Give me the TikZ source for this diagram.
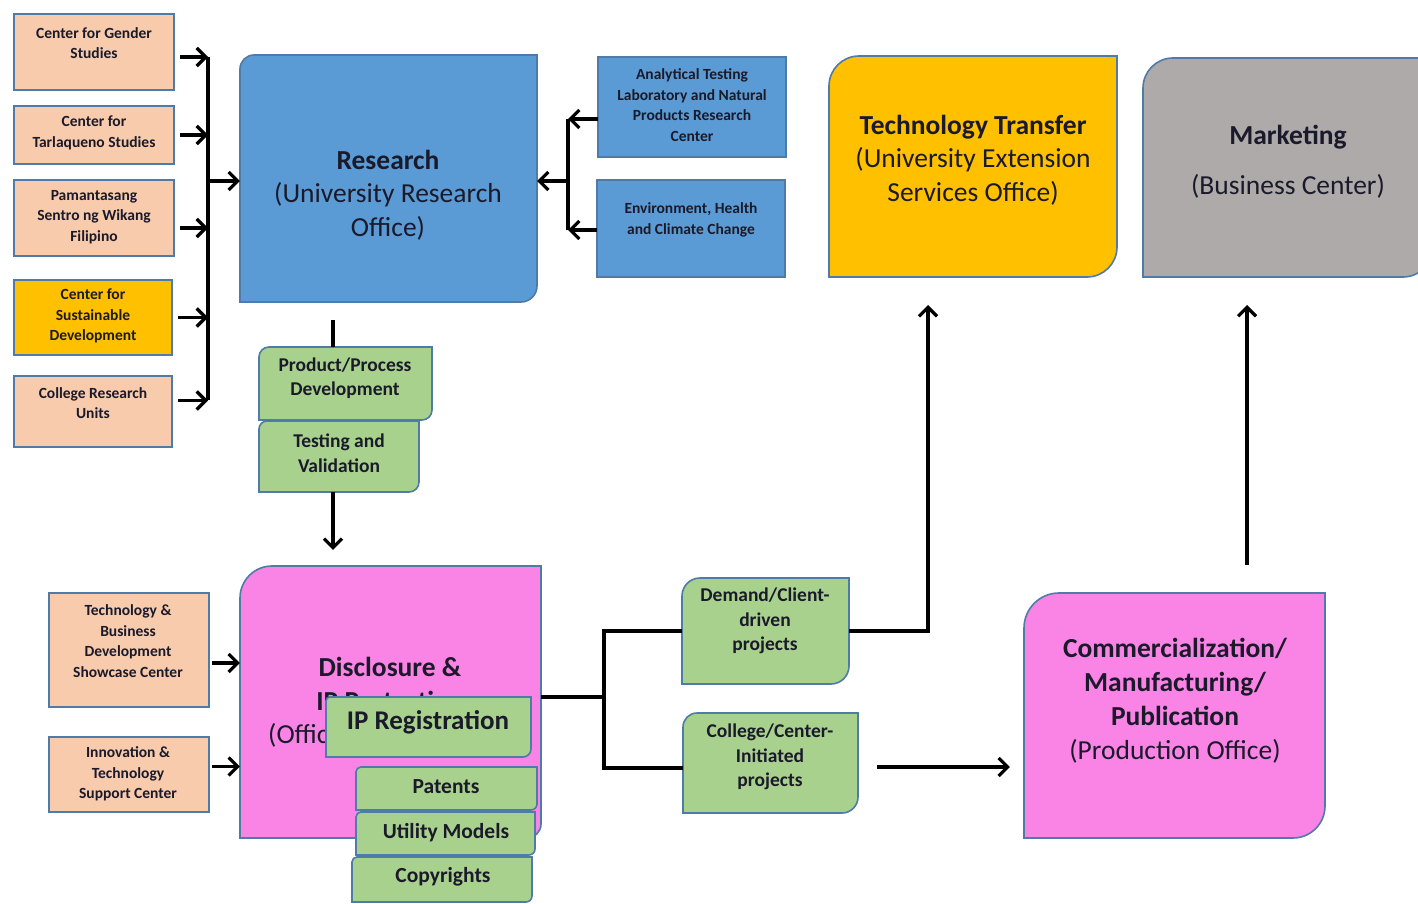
\documentclass[tikz,border=0pt]{standalone}
\usepackage{fontspec}
\setmainfont{Carlito}
\usetikzlibrary{arrows.meta}
\definecolor{peach}{HTML}{F8CBAD}
\definecolor{bordc}{HTML}{4E7BA8}
\definecolor{bluef}{HTML}{5B9BD5}
\definecolor{goldf}{HTML}{FFC000}
\definecolor{grayf}{HTML}{AEAAAA}
\definecolor{pinkf}{RGB}{250,132,230}
\definecolor{greenf}{HTML}{A9D18E}
\definecolor{txt}{HTML}{1A1A2A}
\newcommand\rdbox[8]{%
 \pgfmathsetmacro\ka{#3+#6}%
 \pgfmathsetmacro\kb{#3+0.448*#6}%
 \pgfmathsetmacro\kc{#2+0.448*#6}%
 \pgfmathsetmacro\kd{#2+#6}%
 \pgfmathsetmacro\ke{#5-#7}%
 \pgfmathsetmacro\kf{#5-0.448*#7}%
 \pgfmathsetmacro\kg{#4-0.448*#7}%
 \pgfmathsetmacro\kh{#4-#7}%
 \draw[boxline,fill=#8] (#2,#5) -- (#2,\ka) .. controls (#2,\kb) and (\kc,#3) .. (\kd,#3) -- (#4,#3) -- (#4,\ke) .. controls (#4,\kf) and (\kg,#5) .. (\kh,#5) -- cycle;
 \node[inner sep=0pt,minimum width={#4-#2},minimum height={#5-#3}] (#1) at ({(#2+#4)/2},{(#3+#5)/2}) {};
}
\begin{document}
\begin{tikzpicture}[x=1pt,y=-1pt,
  boxline/.style={draw=bordc,line width=1.6pt},
  line/.style={line width=3.2pt,draw=black},
  arr/.style={line width=3.2pt,draw=black,-{Straight Barb[length=9pt,width=18pt]}},
  tiny/.style={font=\bfseries\fontsize{15.5}{20.5}\selectfont,align=center,inner sep=0pt,text=txt},
  mid/.style={font=\bfseries\fontsize{19.5}{24.5}\selectfont,align=center,inner sep=0pt,text=txt},
  big/.style={font=\fontsize{27.5}{33.5}\selectfont,align=center,inner sep=0pt,text=txt}]
\fill[white] (0,0) rectangle (1418,904);
\useasboundingbox (0,0) rectangle (1418,904);
\clip (0,0) rectangle (1418,904);

% left column
\rdbox{g1}{14}{14}{174}{90}{0}{0}{peach}
\node[tiny] at (94,43) {Center for Gender\\Studies};
\rdbox{g2}{14}{106}{174}{164}{0}{0}{peach}
\node[tiny] at (94,133) {Center for\\Tarlaqueno Studies};
\rdbox{g3}{14}{180}{174}{256}{0}{0}{peach}
\node[tiny] at (94,217) {Pamantasang\\Sentro ng Wikang\\Filipino};
\rdbox{g4}{14}{280}{172}{355}{0}{0}{goldf}
\node[tiny] at (93,316) {Center for\\Sustainable\\Development};
\rdbox{g5}{14}{376}{172}{447}{0}{0}{peach}
\node[tiny] at (93,403) {College Research\\Units};

% research
\rdbox{research}{240}{55}{537}{302}{14}{16}{bluef}
\node[big] at (388,195) {{\bfseries Research}\\(University Research\\Office)};

% right blue boxes
\rdbox{an}{598}{57}{786}{157}{0}{0}{bluef}
\node[tiny] at (692,105) {Analytical Testing\\Laboratory and Natural\\Products Research\\Center};
\rdbox{env}{597}{180}{785}{277}{0}{0}{bluef}
\node[tiny] at (691,220) {Environment, Health\\and Climate Change};

% green process boxes
\rdbox{pp}{259}{347}{432}{420}{10}{10}{greenf}
\node[mid] at (345,378) {Product/Process\\Development};
\rdbox{tv}{259}{421}{419}{492}{8}{10}{greenf}
\node[mid] at (339,453) {Testing and\\Validation};

% disclosure
\rdbox{disc}{240}{566}{541}{838}{32}{14}{pinkf}
\node[big,font=\bfseries\fontsize{27.5}{33.5}\selectfont] at (390,684) {Disclosure \&\\IP Protection};
\node[big,anchor=west] at (268,735) {(Office)};
\rdbox{ipr}{326}{697}{531}{757}{4}{8}{greenf}
\node[big,font=\bfseries\fontsize{27}{30}\selectfont] at (428,722) {IP Registration};
\rdbox{pat}{356}{767}{537}{810}{5}{6}{greenf}
\node[mid,font=\bfseries\fontsize{21.5}{24}\selectfont] at (446,787) {Patents};
\rdbox{um}{356}{812}{535}{855}{5}{6}{greenf}
\node[mid,font=\bfseries\fontsize{21.5}{24}\selectfont] at (446,833) {Utility Models};
\rdbox{cp}{352}{857}{532}{902}{5}{6}{greenf}
\node[mid,font=\bfseries\fontsize{21.5}{24}\selectfont] at (443,877) {Copyrights};

% bottom left
\rdbox{tb}{49}{593}{209}{707}{0}{0}{peach}
\node[tiny] at (128,641) {Technology \&\\Business\\Development\\Showcase Center};
\rdbox{it}{49}{737}{209}{812}{0}{0}{peach}
\node[tiny] at (128,774) {Innovation \&\\Technology\\Support Center};

% projects
\rdbox{demand}{682}{578}{849}{684}{18}{18}{greenf}
\node[mid] at (765,621) {Demand/Client-\\driven\\projects};
\rdbox{college}{683}{713}{858}{813}{14}{16}{greenf}
\node[mid] at (770,757) {College/Center-\\Initiated\\projects};

% top right
\rdbox{tt}{829}{56}{1117}{277}{30}{30}{goldf}
\node[big] at (973,160) {{\bfseries Technology Transfer}\\(University Extension\\Services Office)};
\rdbox{mk}{1143}{58}{1433}{277}{30}{30}{grayf}
\node[big,font=\fontsize{27.5}{50}\selectfont] at (1288,162) {{\bfseries Marketing}\\(Business Center)};

\rdbox{comm}{1024}{593}{1325}{838}{35}{32}{pinkf}
\node[big,font=\fontsize{27.5}{34}\selectfont] at (1175,701) {{\bfseries Commercialization/}\\{\bfseries Manufacturing/}\\{\bfseries Publication}\\(Production Office)};

% left bar connectors
\coordinate (lb1) at (208,57);
\coordinate (lb5) at (208,400);
\coordinate (lbm) at (208,181);
\draw[line] (lb1) -- (lb5);
\draw[arr,shorten <=6pt] ([yshift=-5pt]g1.east) -- ([yshift=-5pt]g1.east -| lb1);
\draw[arr,shorten <=6pt] (g2.east) -- (g2.east -| lb1);
\draw[arr,shorten <=6pt] ([yshift=-10pt]g3.east) -- ([yshift=-10pt]g3.east -| lb1);
\draw[arr,shorten <=6pt] (g4.east) -- (g4.east -| lb1);
\draw[arr,shorten <=6pt] ([yshift=11pt]g5.east) -- ([yshift=11pt]g5.east -| lb1);
\draw[arr] (lbm) -- (lbm -| research.west);

% right bar connectors
\coordinate (rb1) at (568,119);
\coordinate (rb2) at (568,230);
\coordinate (rbm) at (568,181);
\draw[line] (rb1) -- (rb2);
\draw[arr] (an.west |- rb1) -- (rb1);
\draw[arr] (env.west |- rb2) -- (rb2);
\draw[arr] (rbm) -- (rbm -| research.east);

% vertical flow
\coordinate (rd) at (333,302);
\draw[line,shorten <=18pt] (rd) -- (rd |- pp.north);
\draw[arr,shorten >=16pt] (tv.south -| rd) -- (rd |- disc.north);

% bottom left arrows
\draw[arr,shorten <=3pt] ([yshift=-13pt]tb.east) -- ([yshift=-13pt]tb.east -| disc.west);
\draw[arr,shorten <=3pt] ([yshift=8pt]it.east) -- ([yshift=8pt]it.east -| disc.west);

% disclosure to projects
\coordinate (db) at (604,697);
\draw[line] (disc.east |- db) -- (db);
\draw[line] (demand.west) -| (db) |- ([yshift=-5pt]college.west);

% projects onward
\coordinate (tta) at (928,277);
\draw[arr,shorten >=28pt] (demand.east) -| (tta);
\draw[arr,shorten <=19pt,shorten >=14pt] ([yshift=-4pt]college.east) -- ([yshift=-4pt]college.east -| comm.west);
\coordinate (ma) at (1247,593);
\coordinate (mb) at (1247,277);
\draw[arr,shorten <=28pt,shorten >=28pt] (ma) -- (mb);
\end{tikzpicture}
\end{document}
